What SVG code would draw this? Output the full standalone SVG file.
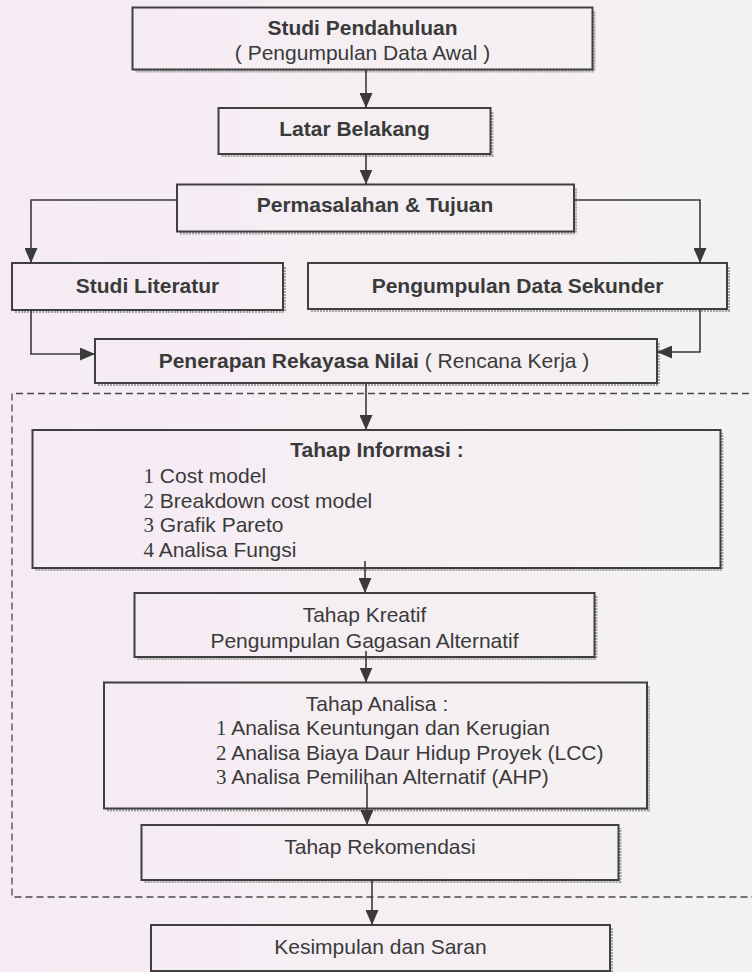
<svg xmlns="http://www.w3.org/2000/svg" width="752" height="972" viewBox="0 0 752 972">
  <defs>
    <linearGradient id="paper" x1="0" y1="0" x2="1" y2="0">
      <stop offset="0" stop-color="#f6ebf4"/>
      <stop offset="0.5" stop-color="#f5eff3"/>
      <stop offset="1" stop-color="#f4f2f1"/>
    </linearGradient>
    <marker id="arrow" markerUnits="userSpaceOnUse" markerWidth="15" markerHeight="13" refX="15" refY="6.5" orient="auto">
      <path d="M0,0 L15,6.5 L0,13 Z" fill="#3a3a3a"/>
    </marker>
  </defs>
  <style>
    .box { fill: none; stroke: #3f3f3f; stroke-width: 2; }
    .shadow { fill: none; stroke: #8a8a8a; stroke-width: 3; stroke-dasharray: 2 1; opacity: 0.75; }
    .conn { fill: none; stroke: #3a3a3a; stroke-width: 1.6; }
    .frame { fill: none; stroke: #4a4a4a; stroke-width: 1.3; stroke-dasharray: 7 4; }
    text { font-family: "Liberation Sans", Arial, sans-serif; font-size: 21px; fill: #3a3a3a; }
    .b { font-weight: bold; }
    .c { text-anchor: middle; }
    .num { font-family: "Liberation Serif", "Times New Roman", serif; }
  </style>

  <rect x="0" y="0" width="752" height="972" fill="url(#paper)"/>

  <!-- dashed boundary of the value engineering stages -->
  <path class="frame" d="M760,393.5 H12 V897 H760"/>

  <g id="studi-pendahuluan">
    <path class="shadow" d="M135.5,71 H594 V10.5"/>
    <rect class="box" x="132.5" y="7.5" width="460" height="62"/>
    <text class="c b" x="362.5" y="35">Studi Pendahuluan</text>
    <text class="c" x="362.5" y="60">( Pengumpulan Data Awal )</text>
  </g>

  <g id="latar-belakang">
    <path class="shadow" d="M221.5,155.5 H492 V111"/>
    <rect class="box" x="218.5" y="108" width="272" height="46"/>
    <text class="c b" x="354.5" y="136">Latar Belakang</text>
  </g>

  <g id="permasalahan">
    <path class="shadow" d="M180,233 H575.5 V187.5"/>
    <rect class="box" x="177" y="184.5" width="397" height="47"/>
    <text class="c b" x="375" y="212">Permasalahan &amp; Tujuan</text>
  </g>

  <g id="studi-literatur">
    <path class="shadow" d="M15,311.5 H284.5 V266"/>
    <rect class="box" x="12" y="263" width="271" height="47"/>
    <text class="c b" x="147.5" y="293">Studi Literatur</text>
  </g>

  <g id="data-sekunder">
    <path class="shadow" d="M311,310.5 H728.5 V266"/>
    <rect class="box" x="308" y="263" width="419" height="46"/>
    <text class="c b" x="517.5" y="293">Pengumpulan Data Sekunder</text>
  </g>

  <g id="penerapan">
    <path class="shadow" d="M98,384.5 H658.5 V342"/>
    <rect class="box" x="95" y="339" width="562" height="44"/>
    <text class="c" x="374" y="368"><tspan class="b">Penerapan Rekayasa Nilai</tspan> ( Rencana Kerja )</text>
  </g>

  <g id="tahap-informasi">
    <path class="shadow" d="M35.5,569.5 H722 V433"/>
    <rect class="box" x="32.5" y="430" width="688" height="138"/>
    <text class="c b" x="377" y="457">Tahap Informasi :</text>
    <text x="143.5" y="483"><tspan class="num">1</tspan> Cost model</text>
    <text x="143.5" y="507.5"><tspan class="num">2</tspan> Breakdown cost model</text>
    <text x="143.5" y="532"><tspan class="num">3</tspan> Grafik Pareto</text>
    <text x="143.5" y="556.5"><tspan class="num">4</tspan> Analisa Fungsi</text>
  </g>

  <g id="tahap-kreatif">
    <path class="shadow" d="M137.5,658.5 H596 V596"/>
    <rect class="box" x="134.5" y="593" width="460" height="64"/>
    <text class="c" x="364.5" y="622">Tahap Kreatif</text>
    <text class="c" x="364.5" y="648">Pengumpulan Gagasan Alternatif</text>
  </g>

  <g id="tahap-analisa">
    <path class="shadow" d="M107,810 H648.5 V685.5"/>
    <rect class="box" x="104" y="682.5" width="543" height="126"/>
    <text class="c" x="377" y="711">Tahap Analisa :</text>
    <text x="216" y="735"><tspan class="num">1</tspan> Analisa Keuntungan dan Kerugian</text>
    <text x="216" y="760"><tspan class="num">2</tspan> Analisa Biaya Daur Hidup Proyek (LCC)</text>
    <text x="216" y="784"><tspan class="num">3</tspan> Analisa Pemilihan Alternatif (AHP)</text>
  </g>

  <g id="tahap-rekomendasi">
    <path class="shadow" d="M144.5,881.5 H620 V828"/>
    <rect class="box" x="141.5" y="825" width="477" height="55"/>
    <text class="c" x="380" y="854">Tahap Rekomendasi</text>
  </g>

  <g id="kesimpulan">
    <path class="shadow" d="M611.5,928 V972"/>
    <rect class="box" x="151" y="925" width="459" height="46"/>
    <text class="c" x="380.5" y="954">Kesimpulan dan Saran</text>
  </g>

  <g id="connectors">
    <path class="conn" d="M366,69.5 V108" marker-end="url(#arrow)"/>
    <path class="conn" d="M366,154 V184.5" marker-end="url(#arrow)"/>
    <path class="conn" d="M177,200 H31 V263" marker-end="url(#arrow)"/>
    <path class="conn" d="M574,200 H700 V263" marker-end="url(#arrow)"/>
    <path class="conn" d="M31,310 V354 H95" marker-end="url(#arrow)"/>
    <path class="conn" d="M700,309 V352 H657" marker-end="url(#arrow)"/>
    <path class="conn" d="M366,383 V430" marker-end="url(#arrow)"/>
    <path class="conn" d="M365,561 V593" marker-end="url(#arrow)"/>
    <path class="conn" d="M366,651 V682.5" marker-end="url(#arrow)"/>
    <path class="conn" d="M367,783 V825" marker-end="url(#arrow)"/>
    <path class="conn" d="M372,880 V925" marker-end="url(#arrow)"/>
  </g>
</svg>
